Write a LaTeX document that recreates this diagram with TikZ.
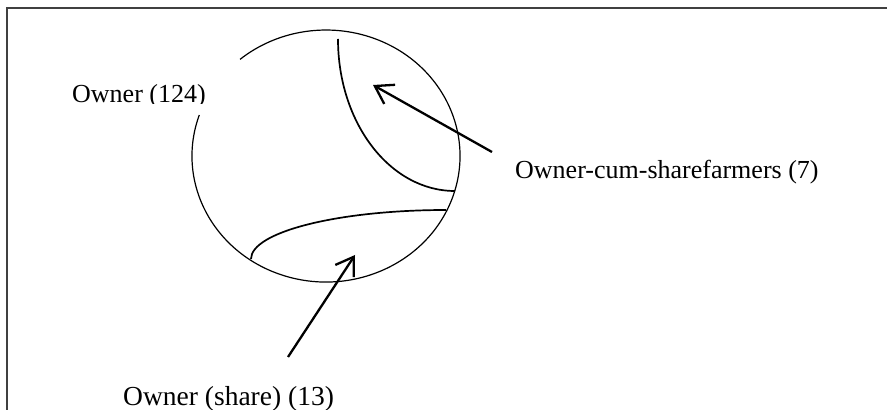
\documentclass[tikz,border=0pt]{standalone}
\usepackage{fontspec}
\setmainfont{Liberation Serif}
\usepackage{tikz}
\usetikzlibrary{arrows.meta}
\colorlet{framegray}{black!75}

\begin{document}
\begin{tikzpicture}[x=1pt,y=1pt,
    curve/.style={line width=1.7pt},
    pointer/.style={line width=2.3pt,-{Straight Barb[length=17pt,width=22pt]}},
    label/.style={anchor=base west,inner sep=0pt,font=\fontsize{26}{30}\selectfont}]
\useasboundingbox (0,0) rectangle (887,410);
% frame
\draw[framegray,line width=1.3pt] (7,0) -- (7,402) -- (887,402);
% owners, gap left for the label
\draw[line width=1.2pt] (199.3,295.0) arc[start angle=161,end angle=489.9,x radius=134,y radius=126];
\draw[curve] (338,371) .. controls (338,287) and (390,219) .. (455,219);
\draw[curve] (251,151) .. controls (251,178) and (338,200) .. (446,200);
% labels
\begin{scope}
\clip (60,306) rectangle (250,360);
\node[label] (owner) at (72,307) {Owner (124)};
\end{scope}
\node[label] (cum) at (515,231) {Owner-cum-sharefarmers (7)};
\node[label,font=\fontsize{27.5}{32}\selectfont] (share) at (123,5) {Owner (share) (13)};
\coordinate (cumtail) at (492,258);
\coordinate (cumtip) at (373,325);
\coordinate (sharetail) at (288,53);
\coordinate (sharetip) at (355,155);
\draw[pointer] (cumtail) -- (cumtip);
\draw[pointer] (sharetail) -- (sharetip);
\end{tikzpicture}
\end{document}
